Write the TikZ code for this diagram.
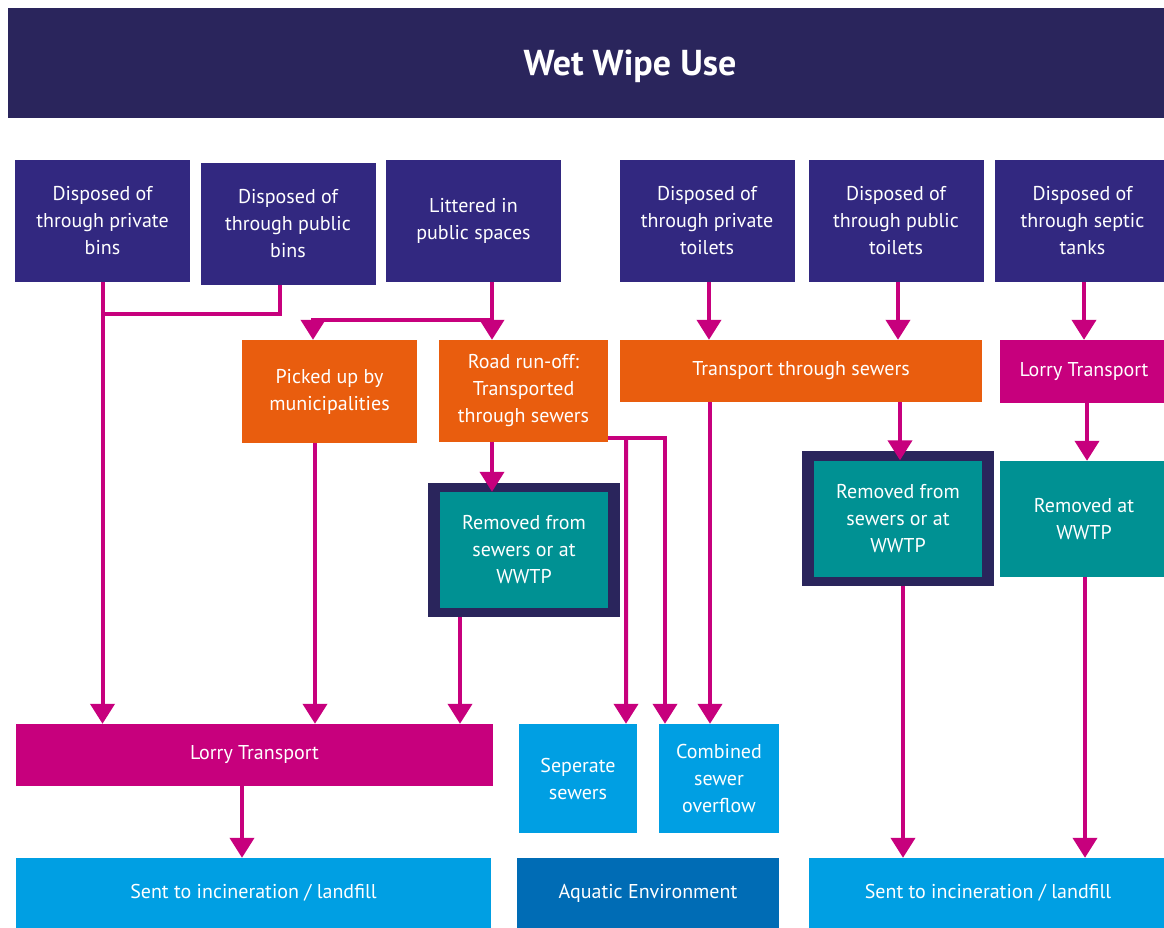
\documentclass[tikz,border=0pt]{standalone}
\usepackage{fontspec}
\setmainfont{PT Sans}
\usetikzlibrary{arrows.meta,positioning,calc,fit,backgrounds}
\definecolor{titlenavy}{RGB}{42,37,92}
\definecolor{sourcepurple}{RGB}{50,40,128}
\definecolor{sewerorange}{RGB}{233,93,14}
\definecolor{lorrymagenta}{RGB}{199,0,125}
\definecolor{wwtpteal}{RGB}{0,145,147}
\definecolor{outletblue}{RGB}{0,159,227}
\definecolor{aquablue}{RGB}{0,108,181}

\tikzset{
  box/.style={rectangle, inner sep=0pt, text=white, align=center,
    font=\fontsize{20}{27}\selectfont},
  source/.style={box, fill=sourcepurple, minimum width=175pt, minimum height=122pt},
  orangebox/.style={box, fill=sewerorange},
  lorrybox/.style={box, fill=lorrymagenta},
  tealbox/.style={box, fill=wwtpteal, minimum width=168pt, minimum height=116pt},
  frame/.style={rectangle, fill=titlenavy, inner xsep=12pt, inner ysep=9pt},
  endbox/.style={box, fill=outletblue},
  flowline/.style={draw=lorrymagenta, line width=4pt},
  flow/.style={flowline, -{Triangle[width=24pt,length=20pt]}},
}

\begin{document}
\begin{tikzpicture}[x=1pt,y=-1pt]
    \useasboundingbox (0,0) rectangle (1164,927);

    % Title bar
    \fill[titlenavy] (8,8) rectangle (1164,118);
    \node[text=white, font=\fontsize{36}{40}\selectfont\bfseries] (title) at (630,66) {Wet Wipe Use};

    % Sources
    \foreach \name/\cx/\cy/\txt in {
        pbins/102.5/220.5/{Disposed of\\through private\\bins},
        pubbins/288/223.5/{Disposed of\\through public\\bins},
        litter/473.5/221/{Littered in\\public spaces},
        ptoilets/707/221/{Disposed of\\through private\\toilets},
        pubtoilets/896/221/{Disposed of\\through public\\toilets},
        septic/1082.5/221/{Disposed of\\through septic\\tanks}} {
        \node[source] (\name) at (\cx,\cy) {\txt};
    }

    % Transport
    \node[orangebox, minimum width=175pt, minimum height=103pt] (pickup) at (329.5,391.5) {Picked up by\\municipalities};
    \node[orangebox, minimum width=169pt, minimum height=102pt] (road) at (523.5,391) {Road run-off:\\Transported\\through sewers};
    \node[orangebox, minimum width=362pt, minimum height=62pt] (sewers) at (801,371) {Transport through sewers};
    \node[lorrybox, minimum width=168pt, minimum height=63pt] (lorryR) at (1084,371.5) {Lorry Transport};

    % Removal
    \node[tealbox] (teal1) at (524,550) {Removed from\\sewers or at\\WWTP};
    \node[tealbox] (teal2) at (898,518.5) {Removed from\\sewers or at\\WWTP};
    \node[tealbox] (removed) at (1084,519) {Removed at\\WWTP};
    \begin{scope}[on background layer]
        \node[frame, fit=(teal1)] (frame1) {};
        \node[frame, fit=(teal2)] (frame2) {};
    \end{scope}

    % Outlets
    \node[lorrybox, minimum width=477pt, minimum height=62pt] (lorryL) at (254.5,755) {Lorry Transport};
    \node[endbox, minimum width=118pt, minimum height=109pt] (separate) at (578,778.5) {Seperate\\sewers};
    \node[endbox, minimum width=120pt, minimum height=109pt] (combined) at (719,778.5) {Combined\\sewer\\overflow};
    \node[endbox, minimum width=475pt, minimum height=70pt] (sentL) at (253.5,893) {Sent to incineration / landfill};
    \node[box, fill=aquablue, minimum width=262pt, minimum height=70pt] (aquatic) at (648,893) {Aquatic Environment};
    \node[endbox, minimum width=358pt, minimum height=70pt] (sentR) at (988,893) {Sent to incineration / landfill};

    % Bins and litter
    \draw[flow] (pbins.south) -- (pbins.south |- lorryL.north);
    \draw[flowline] ([xshift=-8pt]pubbins.south) |- ($(pbins.south)+(0,32)$);
    \draw[flow] ([xshift=18.5pt]litter.south) -- ([xshift=-31.5pt]road.north);
    \draw[flow] ($(litter.south)+(18.5,38)$) -| ([xshift=-16.5pt]pickup.north);
    \draw[flow] ([xshift=-14.5pt]pickup.south) -- ([xshift=-14.5pt]pickup.south |- lorryL.north);
    \draw[flow] ([xshift=-31.5pt]road.south) -- ([xshift=-31.5pt]road.south |- teal1.north);
    \draw[flow] ([yshift=4pt]road.south east) -| ([xshift=-54pt]combined.north);
    \draw[flow] ([xshift=18pt,yshift=4pt]road.south east) -- ([xshift=48pt]separate.north);
    \draw[flow] ([xshift=-64pt]frame1.south) -- ([xshift=-64pt]frame1.south |- lorryL.north);
    \draw[flow] ([xshift=-12.5pt]lorryL.south) -- ([xshift=-12.5pt]lorryL.south |- sentL.north);

    % Toilets and tanks
    \draw[flow] ([xshift=2pt]ptoilets.south) -- ([xshift=2pt]ptoilets.south |- sewers.north);
    \draw[flow] ([xshift=2pt]pubtoilets.south) -- ([xshift=2pt]pubtoilets.south |- sewers.north);
    \draw[flow] ([xshift=-91pt]sewers.south) -- ([xshift=-91pt]sewers.south |- combined.north);
    \draw[flow] ([xshift=99pt]sewers.south) -- ([xshift=99pt]sewers.south |- teal2.north);
    \draw[flow] ([xshift=5pt]frame2.south) -- ([xshift=5pt]frame2.south |- sentR.north);
    \draw[flow] ([xshift=1.5pt]septic.south) -- ([xshift=1.5pt]septic.south |- lorryR.north);
    \draw[flow] ([xshift=3pt]lorryR.south) -- ([xshift=3pt]lorryR.south |- removed.north);
    \draw[flow] ([xshift=1pt]removed.south) -- ([xshift=1pt]removed.south |- sentR.north);
\end{tikzpicture}
\end{document}
